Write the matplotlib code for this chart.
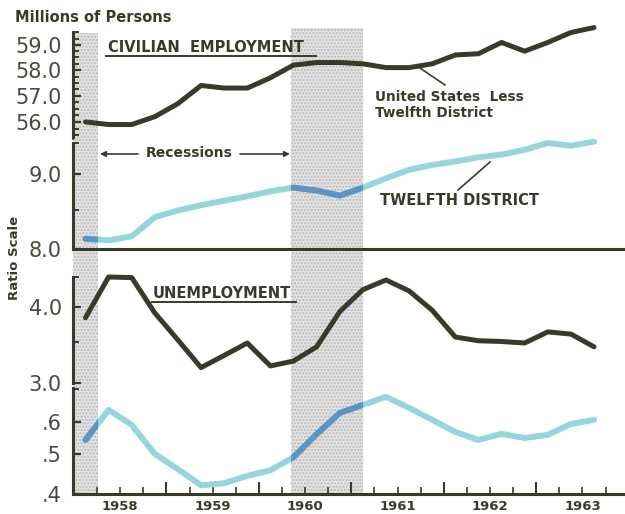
import matplotlib.pyplot as plt
from matplotlib.patches import Rectangle
from matplotlib.lines import Line2D

# quarterly observations 1958 Q1 .. 1963 Q3, plotted at mid-quarter
quarters = [1958.125, 1958.375, 1958.625, 1958.875,
            1959.125, 1959.375, 1959.625, 1959.875,
            1960.125, 1960.375, 1960.625, 1960.875,
            1961.125, 1961.375, 1961.625, 1961.875,
            1962.125, 1962.375, 1962.625, 1962.875,
            1963.125, 1963.375, 1963.625]

# civilian employment, millions of persons
emp_us = [56.0, 55.9, 55.9, 56.2, 56.7, 57.4, 57.3, 57.3, 57.7, 58.2, 58.3, 58.3,
          58.25, 58.1, 58.1, 58.25, 58.6, 58.65, 59.1, 58.75, 59.1, 59.5, 59.7]
emp_12 = [8.13, 8.11, 8.16, 8.41, 8.50, 8.57, 8.63, 8.69, 8.76, 8.81, 8.77, 8.70,
          8.81, 8.94, 9.06, 9.13, 9.18, 9.24, 9.28, 9.35, 9.45, 9.41, 9.47]

# unemployment, millions of persons
unemp_us = [3.84, 4.48, 4.47, 3.91, 3.53, 3.18, 3.33, 3.49, 3.20, 3.26, 3.44, 3.93,
            4.27, 4.43, 4.25, 3.95, 3.57, 3.52, 3.51, 3.49, 3.64, 3.61, 3.44]
unemp_12 = [0.542, 0.642, 0.590, 0.501, 0.460, 0.420, 0.425, 0.443, 0.457, 0.492, 0.560, 0.631,
            0.660, 0.691, 0.649, 0.607, 0.567, 0.542, 0.561, 0.548, 0.558, 0.593, 0.607]

recessions = [(1957.99, 1958.26), (1960.35, 1961.13)]
year_labels = ['1958', '1959', '1960', '1961', '1962', '1963']

DARK = '#3b3a2a'
CYAN = '#95d6dd'
BLUE = '#5d95c2'
W, H = 625, 514
XLIM = (1957.99, 1963.96)

fig = plt.figure(figsize=(W / 100, H / 100), dpi=100)


def rect(x0, y0, x1, y1):
    return [x0 / W, 1 - y1 / H, (x1 - x0) / W, (y1 - y0) / H]


def fx(x):
    return x / W


def fy(y):
    return 1 - y / H


# background with the recession shading
bg = fig.add_axes(rect(73, 28, 625, 494))
bg.set_xlim(*XLIM)
bg.set_ylim(0, 1)
bg.axis('off')
for (a, b), top in zip(recessions, [0.99, 1.0]):
    bg.add_patch(Rectangle((a, 0), b - a, top, facecolor='#e2e2e2', edgecolor='#b8b8b8',
                           hatch='.....', linewidth=0))

panels = [
    # pixel box, data, color, ylim, major ticks, labels, minor ticks, bottom spine
    ((32, 137), emp_us, DARK, (55.43, 59.52), [56, 57, 58, 59], ['56.0', '57.0', '58.0', '59.0'],
     [55.5 + 0.25 * k for k in range(17)], False),
    ((143, 249), emp_12, CYAN, (8.0, 9.45), [8.0, 9.0], ['8.0', '9.0'], [8.5, 9.45], True),
    ((277, 383), unemp_us, DARK, (3.0, 4.48), [3.0, 4.0], ['3.0', '4.0'], [3.5, 4.48], False),
    ((388, 494), unemp_12, CYAN, (0.4, 0.726), [0.4, 0.5, 0.6], ['.4', '.5', '.6'], [0.72], True),
]

axes = []
for (y0, y1), vals, col, ylim, ticks, labels, minor, bottom in panels:
    ax = fig.add_axes(rect(73, y0, 625, y1))
    ax.patch.set_alpha(0)
    ax.set_yscale('log')
    ax.set_xlim(*XLIM)
    ax.set_ylim(*ylim)
    ax.set_yticks(ticks)
    ax.set_yticklabels(labels)
    ax.set_yticks(minor, minor=True)
    ax.yaxis.set_minor_formatter(plt.NullFormatter())
    for s in ['top', 'right']:
        ax.spines[s].set_visible(False)
    ax.spines['bottom'].set_visible(bottom)
    for s in ['left', 'bottom']:
        ax.spines[s].set_linewidth(2.2)
        ax.spines[s].set_color(DARK)
    ax.tick_params(axis='y', direction='in', length=6, width=1.6, color=DARK,
                   labelsize=15, labelcolor='#4a4a3c', pad=8)
    ax.tick_params(axis='y', which='minor', direction='in', length=4, width=1.4, color=DARK)
    ax.set_xticks([])
    if col == DARK:
        ax.plot(quarters, vals, color=DARK, linewidth=3.6, solid_joinstyle='round',
                solid_capstyle='round', clip_on=False)
    else:
        ax.plot(quarters, vals, color=CYAN, linewidth=4.3, solid_joinstyle='round',
                solid_capstyle='round', clip_on=False)
        for a, b in recessions:
            ln, = ax.plot(quarters, vals, color=BLUE, linewidth=4.3, solid_joinstyle='round',
                          solid_capstyle='round')
            ln.set_clip_path(Rectangle((a, 0.01), b - a, 10, transform=ax.transData))
    axes.append(ax)

# x axis ticks on the bottom panel: quarters, years longer
ax = axes[3]
ax.set_xticks([1959, 1960, 1961, 1962, 1963])
ax.set_xticklabels([])
ax.set_xticks([1958.25, 1958.5, 1958.75, 1959.25, 1959.5, 1959.75, 1960.25, 1960.5,
               1960.75, 1961.25, 1961.5, 1961.75, 1962.25, 1962.5, 1962.75,
               1963.25, 1963.5, 1963.75], minor=True)
ax.tick_params(axis='x', which='major', direction='in', length=9, width=1.5, color=DARK)
ax.tick_params(axis='x', which='minor', direction='in', length=5, width=1.2, color=DARK)
for i, lab in enumerate(year_labels):
    ax.text(1958.5 + i, -0.06, lab, transform=ax.get_xaxis_transform(), ha='center', va='top',
            fontsize=9.5, fontweight='bold', color=DARK)

# axis breaks
for y in [140, 385]:
    fig.text(fx(73), fy(y), '•', ha='center', va='center', fontsize=5, color=DARK)

# texts
fig.text(fx(15), fy(18), 'Millions of Persons', ha='left', va='center', fontsize=10.5,
         fontweight='bold', color=DARK)
fig.text(fx(15), fy(258), 'Ratio Scale', ha='center', va='center', rotation=90,
         fontsize=9.5, fontweight='bold', color=DARK)

fig.text(fx(108), fy(47), 'CIVILIAN  EMPLOYMENT', ha='left', va='center', fontsize=10.5,
         fontweight='bold', color=DARK)
fig.add_artist(Line2D([fx(106), fx(316)], [fy(56), fy(56)], color=DARK, linewidth=1.4))

fig.text(fx(153), fy(294), 'UNEMPLOYMENT', ha='left', va='center', fontsize=10.5,
         fontweight='bold', color=DARK)
fig.add_artist(Line2D([fx(152), fx(296)], [fy(302), fy(302)], color=DARK, linewidth=1.4))

fig.text(fx(375), fy(105), 'United States  Less\nTwelfth District', ha='left', va='center',
         fontsize=9.8, fontweight='bold', color=DARK, linespacing=1.2)
fig.add_artist(Line2D([fx(417), fx(445)], [fy(66), fy(85)], color=DARK, linewidth=1.2))

fig.text(fx(380), fy(201), 'TWELFTH DISTRICT', ha='left', va='center', fontsize=10.5,
         fontweight='bold', color=DARK)
fig.add_artist(Line2D([fx(458), fx(490)], [fy(190), fy(162)], color=DARK, linewidth=1.2))

fig.text(fx(189), fy(153), 'Recessions', ha='center', va='center', fontsize=10,
         fontweight='bold', color=DARK)
for x_from, x_to in [(138, 100), (240, 290)]:
    fig.add_artist(plt.Annotation('', xy=(fx(x_to), fy(154)), xytext=(fx(x_from), fy(154)),
                                  xycoords='figure fraction', textcoords='figure fraction',
                                  arrowprops=dict(arrowstyle='-|>', color=DARK, lw=1.2,
                                                  mutation_scale=8, shrinkA=0, shrinkB=0)))

fig.savefig('out.png', dpi=100)
